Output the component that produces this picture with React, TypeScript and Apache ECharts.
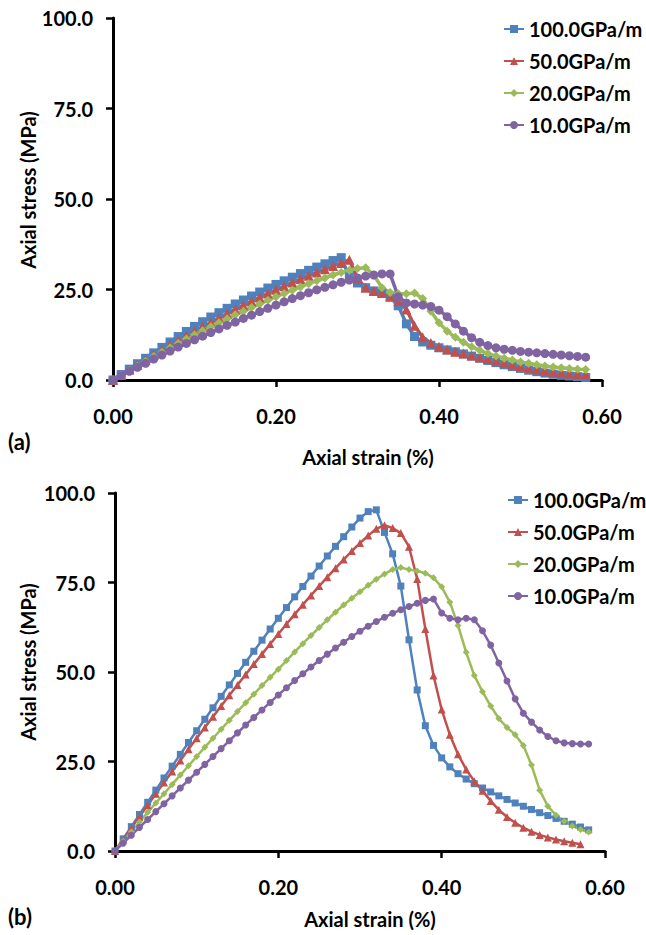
import React, { useEffect, useRef } from "react";
import * as echarts from "echarts";

const seriesNames = ["100.0GPa/m", "50.0GPa/m", "20.0GPa/m", "10.0GPa/m"];
const colors = ["#4F81BD", "#C0504D", "#9BBB59", "#8064A2"];
const symbols = ["rect", "triangle", "diamond", "circle"];

const strain = [
  0.0, 0.01, 0.02, 0.03, 0.04, 0.05, 0.06, 0.07, 0.08, 0.09,
  0.1, 0.11, 0.12, 0.13, 0.14, 0.15, 0.16, 0.17, 0.18, 0.19,
  0.2, 0.21, 0.22, 0.23, 0.24, 0.25, 0.26, 0.27, 0.28, 0.29,
  0.3, 0.31, 0.32, 0.33, 0.34, 0.35, 0.36, 0.37, 0.38, 0.39,
  0.4, 0.41, 0.42, 0.43, 0.44, 0.45, 0.46, 0.47, 0.48, 0.49,
  0.5, 0.51, 0.52, 0.53, 0.54, 0.55, 0.56, 0.57, 0.58,
];

// (a) panel
const a100 = [
  0, 1.5, 3.0, 4.5, 6.0, 7.5, 9.0, 10.5, 12.0, 13.4,
  14.8, 16.1, 17.4, 18.6, 19.8, 21.0, 22.1, 23.2, 24.3, 25.4,
  26.4, 27.4, 28.4, 29.4, 30.3, 31.2, 32.1, 33.0, 33.8, 28.5,
  26.8, 25.5, 24.6, 24.0, 23.0, 20.5, 15.5, 12.0, 10.5, 9.6,
  8.9, 8.3, 7.8, 7.2, 6.6, 6.0, 5.4, 4.8, 4.2, 3.7,
  3.2, 2.7, 2.3, 1.9, 1.6, 1.3, 1.1, 0.9, 0.7,
];
const a50 = [
  0, 1.4, 2.8, 4.2, 5.6, 7.0, 8.3, 9.6, 10.9, 12.2,
  13.5, 14.7, 15.9, 17.1, 18.3, 19.5, 20.6, 21.7, 22.8, 23.9,
  24.9, 25.9, 26.9, 27.9, 28.8, 29.7, 30.6, 31.5, 32.3, 33.2,
  28.0, 25.5, 24.6, 24.0, 23.0, 21.8, 19.5, 15.0, 11.8, 10.2,
  9.2, 8.4, 7.8, 7.3, 6.8, 6.3, 5.8, 5.3, 4.8, 4.3,
  3.8, 3.4, 3.0, 2.6, 2.3, 2.0, 1.8, 1.6, 1.5,
];
const a20 = [
  0, 1.3, 2.6, 3.9, 5.2, 6.5, 7.7, 8.9, 10.1, 11.3,
  12.5, 13.6, 14.7, 15.8, 16.9, 18.0, 19.0, 20.0, 21.0, 22.0,
  23.0, 23.9, 24.8, 25.7, 26.6, 27.4, 28.2, 29.0, 29.7, 30.3,
  30.8, 31.0, 29.0, 25.5, 24.2, 23.8, 23.8, 24.0, 22.5, 19.0,
  15.8, 13.5, 11.8, 10.4, 9.2, 8.2, 7.3, 6.6, 6.0, 5.5,
  5.0, 4.6, 4.2, 3.9, 3.6, 3.4, 3.2, 3.0, 2.9,
];
const a10 = [
  0, 1.2, 2.4, 3.5, 4.6, 5.8, 6.9, 8.0, 9.1, 10.1,
  11.1, 12.1, 13.1, 14.1, 15.1, 16.0, 17.0, 17.9, 18.9, 19.8,
  20.7, 21.6, 22.5, 23.3, 24.1, 24.9, 25.6, 26.3, 27.0, 27.6,
  28.2, 28.7, 29.0, 29.3, 29.3, 23.0, 21.3, 21.0, 20.7, 20.3,
  19.3, 17.5, 15.5, 13.5, 11.7, 10.4, 9.5, 8.9, 8.5, 8.2,
  7.9, 7.7, 7.5, 7.3, 7.1, 6.9, 6.7, 6.5, 6.3,
];

// (b) panel
const b100 = [
  0, 3.4, 6.8, 10.2, 13.6, 17.0, 20.4, 23.7, 27.0, 30.3,
  33.6, 36.8, 40.0, 43.2, 46.4, 49.6, 52.7, 55.8, 58.9, 62.0,
  65.0, 68.0, 71.0, 73.9, 76.8, 79.6, 82.4, 85.1, 87.8, 90.5,
  93.0, 94.8, 95.3, 89.0, 83.0, 74.0, 59.0, 45.0, 35.0, 29.5,
  26.0, 23.5, 21.6, 20.1, 18.8, 17.6, 16.5, 15.4, 14.4, 13.4,
  12.5, 11.6, 10.7, 9.9, 9.1, 8.3, 7.5, 6.7, 5.9,
];
const b50 = [
  0, 3.2, 6.4, 9.6, 12.8, 16.0, 19.1, 22.2, 25.3, 28.4,
  31.5, 34.5, 37.5, 40.5, 43.5, 46.4, 49.3, 52.2, 55.0, 57.8,
  60.6, 63.4, 66.1, 68.8, 71.4, 74.0, 76.5, 79.0, 81.4, 83.8,
  86.0, 88.1, 90.0, 91.0, 90.2, 88.8, 85.0, 76.0, 62.0, 49.0,
  39.5, 32.5, 27.0, 22.8, 19.5, 16.8, 14.0, 11.5, 9.5, 7.9,
  6.5, 5.4, 4.5, 3.8, 3.2, 2.7, 2.3, 1.9,
];
const b20 = [
  0, 2.7, 5.4, 8.1, 10.8, 13.4, 16.0, 18.6, 21.2, 23.8,
  26.4, 29.0, 31.5, 34.0, 36.5, 39.0, 41.4, 43.8, 46.2, 48.5,
  50.8, 53.2, 55.6, 57.9, 60.2, 62.4, 64.6, 66.7, 68.7, 70.6,
  72.4, 74.2, 75.9, 77.4, 78.6, 79.2, 78.6, 78.2, 77.6, 76.3,
  73.8, 69.5, 63.0, 55.5, 49.0, 44.5, 40.5, 37.0, 34.5, 32.5,
  29.5, 24.0, 17.0, 12.5, 10.0, 8.3, 7.0, 6.0, 5.3,
];
const b10 = [
  0, 2.2, 4.4, 6.6, 8.8, 11.0, 13.2, 15.4, 17.6, 19.8,
  22.0, 24.2, 26.4, 28.6, 30.8, 33.0, 35.2, 37.3, 39.4, 41.5,
  43.6, 45.6, 47.6, 49.5, 51.4, 53.2, 55.0, 56.7, 58.3, 59.9,
  61.4, 62.8, 64.1, 65.3, 66.4, 67.4, 68.3, 69.2, 70.0, 70.4,
  66.5, 65.0, 64.6, 65.0, 64.6, 61.5, 57.5, 52.5, 47.5, 42.5,
  38.5, 36.0, 33.8, 32.0, 30.8, 30.2, 30.0, 29.9, 29.9,
];

const yTicks = ["0.0", "25.0", "50.0", "75.0", "100.0"];
const xTicks = ["0.00", "0.20", "0.40", "0.60"];
const xTitle = "Axial strain (%)";
const yTitle = "Axial stress (MPa)";
const panelLabels = ["(a)", "(b)"];

const FONT = "Lato";
const TXT = { fontWeight: "bold", fontSize: 20, color: "#000", fontFamily: FONT };

function mkX(gi: number) {
  return {
    type: "value",
    gridIndex: gi,
    min: 0,
    max: 0.6,
    interval: 0.2,
    axisLine: { show: true, onZero: false, lineStyle: { color: "#000", width: 3 } },
    axisTick: { show: true, length: 7, lineStyle: { color: "#000", width: 2.5 } },
    axisLabel: {
      margin: 26,
      ...TXT,
      formatter: (v: number) => xTicks[Math.round(v / 0.2)] ?? v.toFixed(2),
    },
    splitLine: { show: false },
  };
}

function mkY(gi: number) {
  return {
    type: "value",
    gridIndex: gi,
    min: 0,
    max: 100,
    interval: 25,
    axisLine: { show: true, onZero: false, lineStyle: { color: "#000", width: 3 } },
    axisTick: { show: true, length: 7, lineStyle: { color: "#000", width: 2.5 } },
    axisLabel: {
      margin: 20,
      ...TXT,
      formatter: (v: number) => yTicks[Math.round(v / 25)] ?? v.toFixed(1),
    },
    splitLine: { show: false },
  };
}

function mkSeries(gi: number, idx: number, vals: number[], size: number, lw: number) {
  return {
    type: "line",
    name: seriesNames[idx],
    xAxisIndex: gi,
    yAxisIndex: gi,
    data: vals.map((v, i) => [strain[i], v]),
    symbol: symbols[idx],
    symbolSize: idx === 1 ? size + 1 : size,
    showSymbol: true,
    clip: false,
    itemStyle: { color: colors[idx] },
    lineStyle: { color: colors[idx], width: lw },
  };
}

function mkLegend(left: number, top: number) {
  return {
    orient: "vertical",
    left,
    top,
    itemWidth: 20,
    itemHeight: 10,
    itemGap: 12,
    data: seriesNames,
    textStyle: { ...TXT, lineHeight: 20 },
  };
}

function txt(text: string, x: number, y: number, rot = 0, align = "center", size = 20) {
  return {
    type: "text",
    x,
    y,
    rotation: rot,
    style: {
      text,
      fontSize: size,
      fontWeight: "bold",
      fill: "#000",
      fontFamily: FONT,
      align,
      verticalAlign: "middle",
    },
  };
}

export default function App() {
  const ref = useRef<HTMLDivElement>(null);
  useEffect(() => {
    if (!ref.current) return;
    const chart = echarts.init(ref.current, null, { renderer: "svg" });
    const option = {
      animation: false,
      backgroundColor: "#fff",
      textStyle: { fontFamily: FONT },
      grid: [
        { left: 113, top: 18, width: 489, height: 362 },
        { left: 115, top: 493, width: 490, height: 358 },
      ],
      xAxis: [mkX(0), mkX(1)],
      yAxis: [mkY(0), mkY(1)],
      legend: [mkLegend(498, 14), mkLegend(502, 485)],
      series: [
        mkSeries(0, 0, a100, 9, 3.5),
        mkSeries(0, 1, a50, 9, 3.5),
        mkSeries(0, 2, a20, 9, 3.5),
        mkSeries(0, 3, a10, 9, 3.5),
        mkSeries(1, 0, b100, 7, 2.5),
        mkSeries(1, 1, b50, 7, 2.5),
        mkSeries(1, 2, b20, 7, 2.5),
        mkSeries(1, 3, b10, 7, 2.5),
      ],
      graphic: [
        txt(panelLabels[0], 8, 441, 0, "left", 22),
        txt(panelLabels[1], 8, 916, 0, "left", 22),
        txt(xTitle, 368, 457),
        txt(xTitle, 370, 919),
        txt(yTitle, 28, 190, Math.PI / 2),
        txt(yTitle, 28, 662, Math.PI / 2),
      ],
    };
    chart.setOption(option as any);
    return () => chart.dispose();
  }, []);
  return (
    <div
      ref={ref}
      style={{ position: "fixed", left: 0, top: 0, width: 646, height: 935, background: "#fff" }}
    />
  );
}
